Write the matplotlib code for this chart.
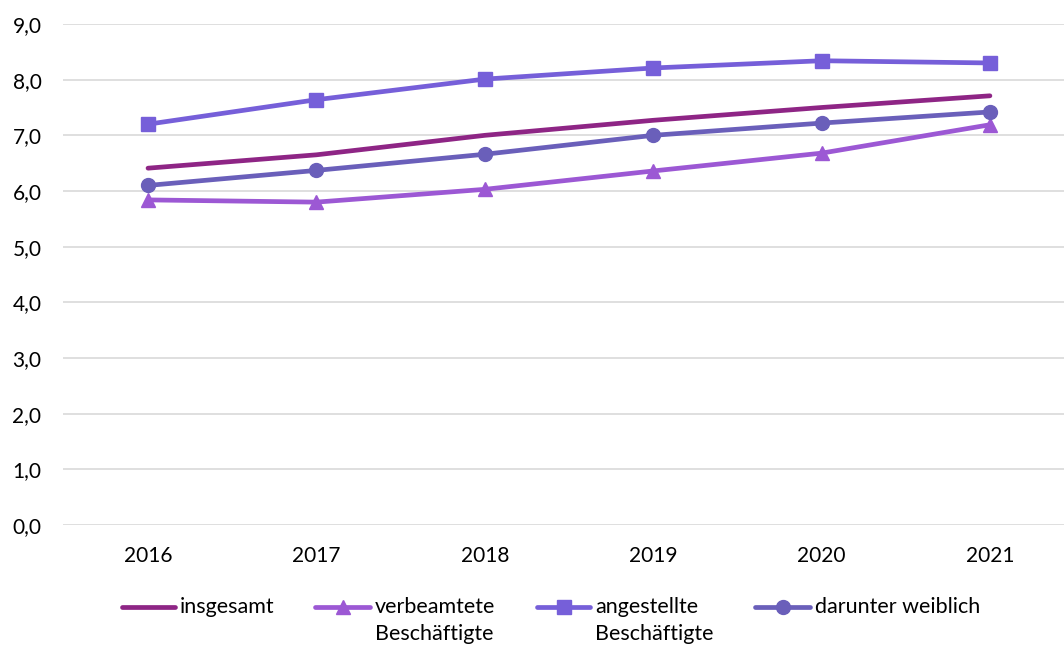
import numpy as np
import matplotlib
matplotlib.use("Agg")
from matplotlib import pyplot as plt
from matplotlib.lines import Line2D

years = ['2016', '2017', '2018', '2019', '2020', '2021']
insgesamt = [6.41, 6.65, 7.0, 7.27, 7.5, 7.71]
verbeamtete = [5.84, 5.80, 6.03, 6.36, 6.68, 7.19]
angestellte = [7.2, 7.64, 8.01, 8.21, 8.34, 8.30]
weiblich = [6.10, 6.37, 6.66, 7.0, 7.22, 7.42]

labels = ['insgesamt', 'verbeamtete\nBeschäftigte', 'angestellte\nBeschäftigte',
          'darunter weiblich']
colors = ['#8E2585', '#9C58D4', '#765FD9', '#6A5FBA']
markers = [None, '^', 's', 'o']

plt.rcParams['font.family'] = ['Lato', 'DejaVu Sans']

W, H = 1064, 648
fig = plt.figure(figsize=(W / 100, H / 100), dpi=100)
ax = fig.add_axes([63 / W, 1 - 525 / H, 1 - 63 / W, (525 - 24) / H])

x = np.arange(len(years))
lw = 3.4
for vals, c, m, lab in zip([insgesamt, verbeamtete, angestellte, weiblich],
                           colors, markers, labels):
    ax.plot(x, vals, color=c, lw=lw, marker=m, markersize=10,
            solid_capstyle='round', label=lab)

ax.set_ylim(0, 9)
ax.set_xlim(-0.505, 5.44)
ax.set_yticks(np.arange(0, 10, 1))
ax.set_yticklabels([('%.1f' % v).replace('.', ',') for v in range(10)])
ax.set_xticks(x)
ax.set_xticklabels(years)
ax.grid(axis='y', color='#D9D9D9', lw=1.2)
ax.set_axisbelow(True)
for s in ax.spines.values():
    s.set_visible(False)
ax.tick_params(length=0, labelsize=15, colors='black')
ax.tick_params(axis='y', pad=15.5)
ax.tick_params(axis='x', pad=15)

# legend drawn by hand so the wrapped labels hang below the line
leg_line = [(122, 175), (315, 370), (537, 590), (755, 810)]
leg_y = 607
for (x0, x1), c, m, lab in zip(leg_line, colors, markers, labels):
    fig.add_artist(Line2D([x0 / W, x1 / W], [1 - leg_y / H, 1 - leg_y / H],
                          transform=fig.transFigure, color=c, lw=lw,
                          solid_capstyle='round'))
    if m:
        fig.add_artist(Line2D([(x0 + x1) / 2 / W], [1 - leg_y / H],
                              transform=fig.transFigure, color=c, marker=m,
                              markersize=10, lw=0))
    fig.text((x1 + 5) / W, 1 - 597 / H, lab, fontsize=15.5, va='top',
             ha='left', linespacing=1.45)

fig.savefig('out.png', dpi=100)
